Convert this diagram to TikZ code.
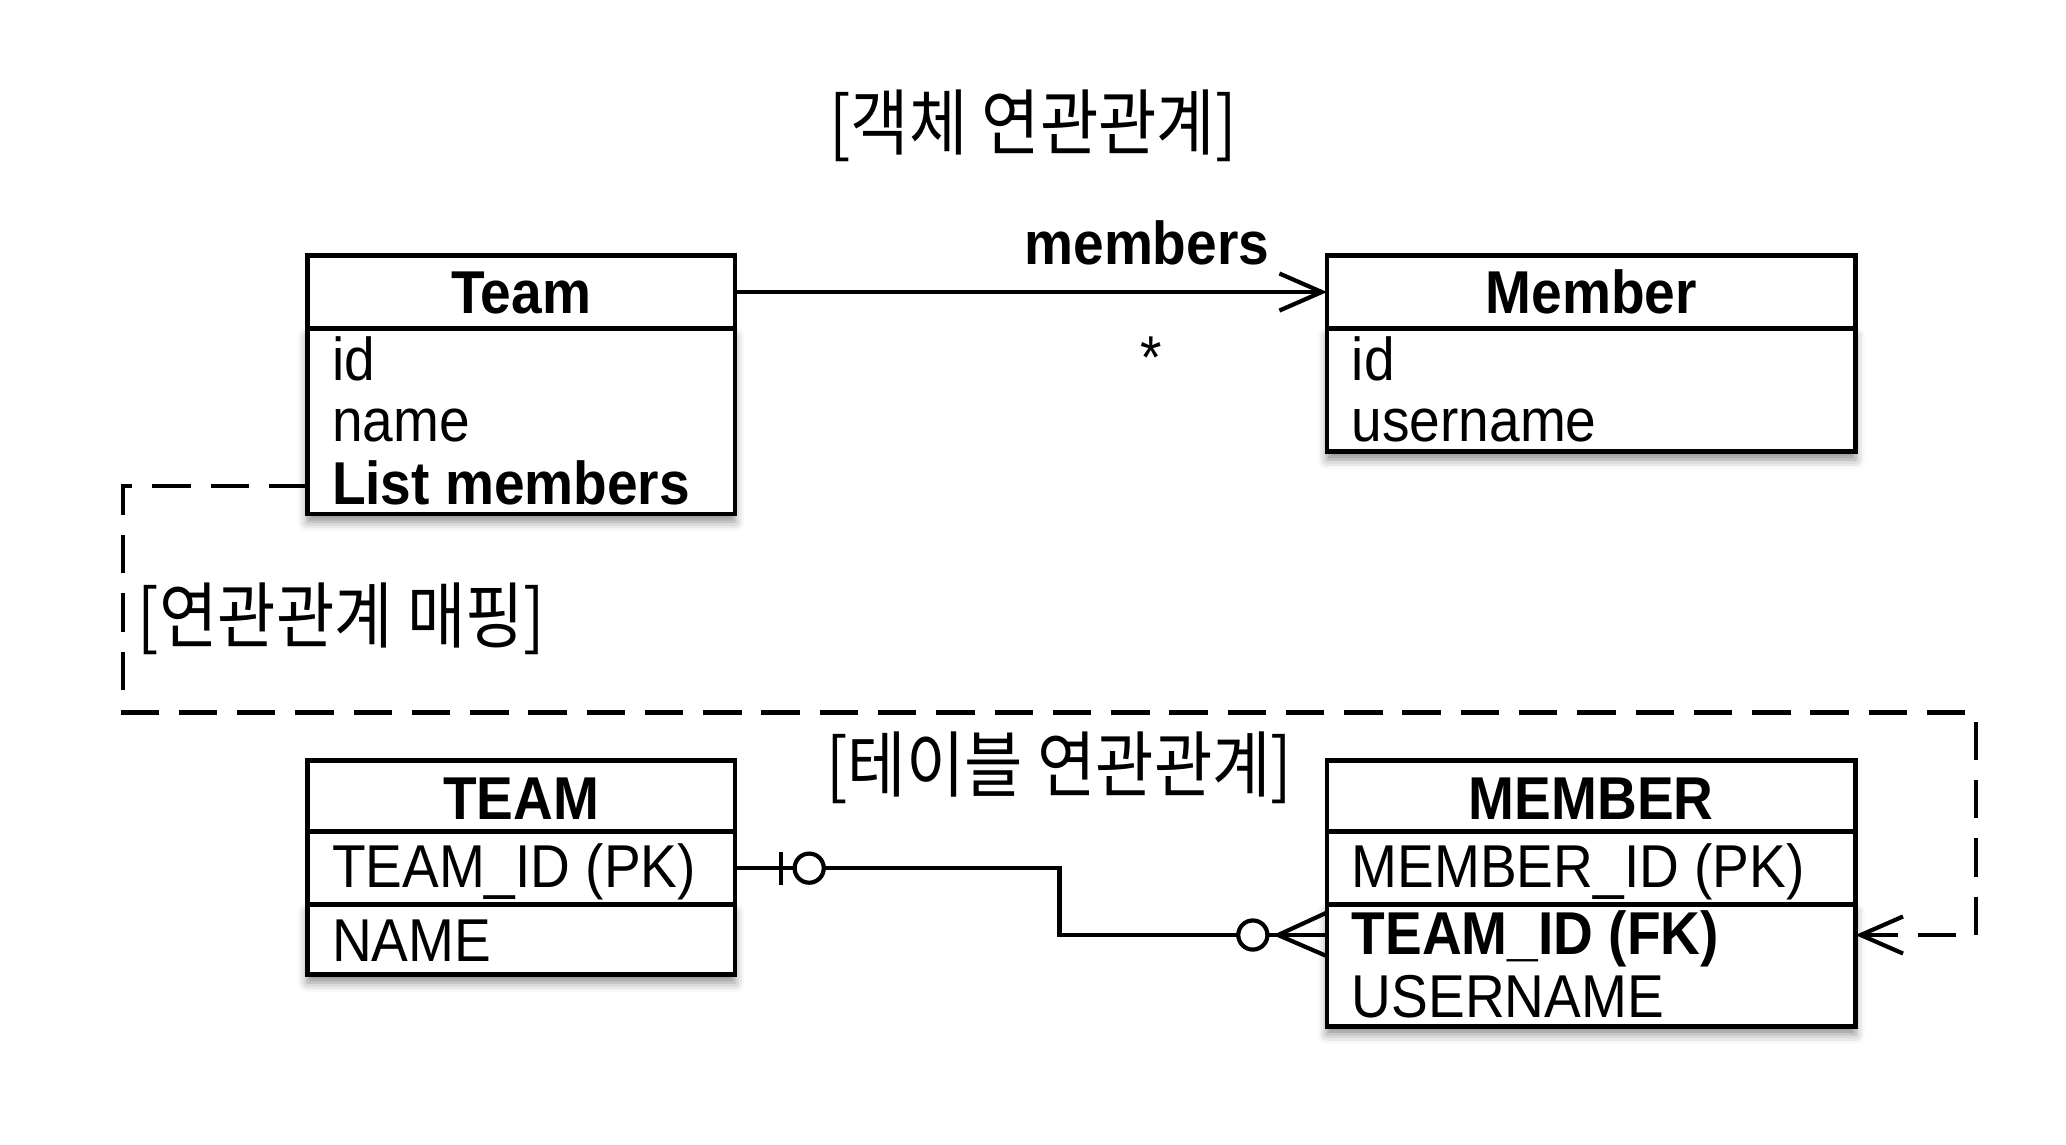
\documentclass[tikz,border=0pt]{standalone}
\usepackage{fontspec}
\setmainfont{Liberation Sans}[FakeStretch=0.91]
\newfontfamily\kofont{Noto Sans CJK KR}[FakeStretch=0.88]
\usetikzlibrary{arrows.meta}
\usetikzlibrary{shadows.blur}
\usetikzlibrary{calc}
\tikzset{
    tablebox/.style={draw, line width=1pt, fill=white, anchor=north west, inner sep=0pt, outer sep=0pt},
    shadowed/.style={blur shadow={shadow xshift=0pt, shadow yshift=-0.6mm, shadow blur radius=0.7mm, shadow opacity=45}},
    headtext/.style={font=\fontsize{13}{15}\selectfont\bfseries, anchor=base, inner sep=0pt},
    attrtext/.style={font=\fontsize{13}{15}\selectfont, anchor=base west, inner sep=0pt},
    kolabel/.style={font=\kofont\fontsize{15.5}{18}\selectfont, inner sep=0pt},
    link/.style={line width=0.9pt},
    maplink/.style={line width=0.9pt, dash pattern=on 2.9mm off 1.5mm},
    zerocirc/.style={circle, draw, fill=white, line width=0.9pt, minimum size=2.2mm, inner sep=0pt},
    barb/.style={-{Straight Barb[length=3.2mm,width=2.8mm]}}
}
\begin{document}
\begin{tikzpicture}[x=0.1mm, y=-0.1mm]
    \useasboundingbox (0,0) rectangle (1560,864);

    \node[kolabel] (objtitle) at (780,95) {[객체 연관관계]};

    % object classes
    \node[tablebox, minimum width=3.23cm, minimum height=0.55cm] (teamhead) at (232,193) {};
    \node[tablebox, shadowed, minimum width=3.23cm, minimum height=1.40cm] (teambody) at (teamhead.south west) {};
    \node[headtext] (teamname) at (393.5,237) {Team};
    \node[attrtext] (teamid) at (250,287) {id};
    \node[attrtext] (teamnm) at (250,333) {name};
    \node[attrtext, font=\fontsize{13}{15}\selectfont\bfseries] (teamlist) at (250,381) {List members};

    \node[tablebox, minimum width=3.99cm, minimum height=0.55cm] (memberhead) at (1002,193) {};
    \node[tablebox, shadowed, minimum width=3.99cm, minimum height=0.93cm] (memberbody) at (memberhead.south west) {};
    \node[headtext] (membername) at (1201.5,237) {Member};
    \node[attrtext] (memberid) at (1020,287) {id};
    \node[attrtext] (memberuser) at (1020,333) {username};

    \draw[link, barb] (teamhead.east) -- (memberhead.west);
    \node[headtext] (memberslabel) at (866,200) {members};
    \node[attrtext, anchor=base] (many) at (869,286) {*};

    % tables
    \node[tablebox, minimum width=3.23cm, minimum height=0.54cm] (tteamhead) at (232,574) {};
    \node[tablebox, minimum width=3.23cm, minimum height=0.55cm] (teampk) at (tteamhead.south west) {};
    \node[tablebox, shadowed, minimum width=3.23cm, minimum height=0.53cm] (teamrow) at (teampk.south west) {};
    \node[headtext] (tteamname) at (393.5,619) {TEAM};
    \node[attrtext] (teampktext) at (250,670) {TEAM\_ID (PK)};
    \node[attrtext] (teamnametext) at (250,726) {NAME};

    \node[tablebox, minimum width=3.99cm, minimum height=0.54cm] (tmemberhead) at (1002,574) {};
    \node[tablebox, minimum width=3.99cm, minimum height=0.55cm] (memberpk) at (tmemberhead.south west) {};
    \node[tablebox, shadowed, minimum width=3.99cm, minimum height=0.92cm] (memberrow) at (memberpk.south west) {};
    \node[headtext] (tmembername) at (1201.5,619) {MEMBER};
    \node[attrtext] (memberpktext) at (1020,670) {MEMBER\_ID (PK)};
    \node[attrtext, font=\fontsize{13}{15}\selectfont\bfseries] (memberfk) at (1020,721) {TEAM\_ID (FK)};
    \node[attrtext] (memberusertext) at (1020,768) {USERNAME};

    \node[kolabel] (tabletitle) at (800,580) {[테이블 연관관계]};

    % one-to-many
    \coordinate (fkend) at (1002,706);
    \draw[link] (teampk.east) -- ++(245,0) |- (fkend);
    \draw[link] (590,643) -- (590,668);
    \node[zerocirc] (teamzero) at (611,655.5) {};
    \node[zerocirc] (memberzero) at (946,706) {};
    \draw[link] (1002,689) -- (965,706) -- (1002,722);

    % mapping
    \coordinate (mapstart) at (232,367);
    \coordinate (mapleft) at (93,538);
    \coordinate (mapright) at (1492,538);
    \coordinate (mapend) at (memberrow.east |- fkend);
    \draw[maplink, barb] (mapstart) -| (mapleft) -- (mapright) |- (mapend);
    \node[kolabel] (maplabel) at (258,467) {[연관관계 매핑]};
\end{tikzpicture}
\end{document}
